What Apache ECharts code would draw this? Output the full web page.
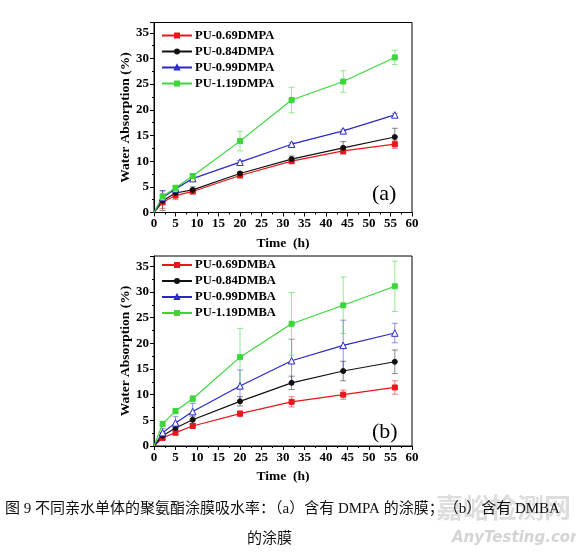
<!DOCTYPE html>
<html><head><meta charset="utf-8">
<script src="https://cdn.jsdelivr.net/npm/echarts@6/dist/echarts.min.js"></script>
<style>html,body{margin:0;padding:0;background:#fff}#c{width:576px;height:554px}</style>
</head><body><div id="c"></div>
<script>
const times = [0, 2, 5, 9, 20, 32, 44, 56];
const namesA = ['PU-0.69DMPA', 'PU-0.84DMPA', 'PU-0.99DMPA', 'PU-1.19DMPA'];
const namesB = ['PU-0.69DMBA', 'PU-0.84DMBA', 'PU-0.99DMBA', 'PU-1.19DMBA'];
const a069 = [0, 2.0, 3.3, 4.1, 7.2, 10.0, 12.0, 13.3];
const a084 = [0, 2.3, 3.8, 4.4, 7.6, 10.4, 12.6, 14.7];
const a099 = [0, 2.9, 4.6, 6.6, 9.8, 13.3, 15.9, 19.0];
const a119 = [0, 3.1, 4.8, 7.1, 13.9, 21.9, 25.5, 30.2];
const a069Err = [0, 1.2, 0.8, 0.5, 0.4, 0.5, 0.6, 0.8];
const a084Err = [0, 1.9, 0.5, 0.6, 0.3, 0.6, 1.2, 1.7];
const a099Err = [0, 1.4, 0.4, 0.3, 0.3, 0.3, 0.3, 0.3];
const a119Err = [0, 0.6, 0.5, 0.5, 1.9, 2.5, 2.1, 1.4];
const b069 = [0, 1.6, 2.6, 3.9, 6.3, 8.6, 10.0, 11.4];
const b084 = [0, 2.0, 3.5, 5.1, 8.7, 12.3, 14.6, 16.4];
const b099 = [0, 2.6, 4.5, 6.7, 11.7, 16.6, 19.6, 22.0];
const b119 = [0, 4.3, 6.8, 9.2, 17.3, 23.8, 27.4, 31.1];
const b069Err = [0, 0.5, 0.5, 0.4, 0.5, 1.0, 0.9, 1.3];
const b084Err = [0, 0.6, 0.6, 0.7, 0.9, 1.3, 1.9, 2.3];
const b099Err = [0, 0.8, 1.2, 1.6, 3.1, 4.2, 4.9, 1.9];
const b119Err = [0, 0.5, 0.5, 0.6, 5.6, 6.1, 5.5, 4.9];
const xTicks = [0, 5, 10, 15, 20, 25, 30, 35, 40, 45, 50, 55, 60];
const yTicks = [0, 5, 10, 15, 20, 25, 30, 35];

const colors = ['#e8161b', '#111111', '#2828c8', '#3cd63c'];
const errColors = ['rgba(232,22,27,0.55)', 'rgba(40,40,40,0.55)', 'rgba(40,40,200,0.5)', 'rgba(60,214,60,0.55)'];
const symbols = ['rect', 'circle', 'triangle', 'rect'];
const fills = ['#e8161b', '#111111', '#ffffff', '#3cd63c'];
const serif = '"Liberation Serif","DejaVu Serif",serif';

function xAxis(gi) {
  return {
    gridIndex: gi, type: 'value', min: 0, max: 60, interval: 5,
    name: 'Time  (h)', nameLocation: 'middle', nameGap: 24,
    nameTextStyle: { fontFamily: serif, fontWeight: 'bold', fontSize: 13.5, color: '#000' },
    axisLine: { show: true, lineStyle: { color: '#000', width: 1 } },
    axisTick: { show: true, inside: false, length: 4, lineStyle: { color: '#000' } },
    minorTick: { show: true, splitNumber: 2, length: 2, lineStyle: { color: '#000' } },
    axisLabel: { fontFamily: serif, fontWeight: 'bold', fontSize: 13, color: '#000', margin: 5,
      formatter: v => xTicks.includes(v) ? String(v) : '' },
    splitLine: { show: false }
  };
}
function yAxis(gi) {
  return {
    gridIndex: gi, type: 'value', min: 0, max: 37, interval: 5,
    name: 'Water Absorption (%)', nameLocation: 'middle', nameGap: 20,
    nameTextStyle: { fontFamily: serif, fontWeight: 'bold', fontSize: 13.5, color: '#000' },
    axisLine: { show: true, lineStyle: { color: '#000', width: 1 } },
    axisTick: { show: true, inside: false, length: 4, lineStyle: { color: '#000' } },
    minorTick: { show: true, splitNumber: 2, length: 2, lineStyle: { color: '#000' } },
    axisLabel: { fontFamily: serif, fontWeight: 'bold', fontSize: 13, color: '#000', margin: 5,
      showMaxLabel: false,
      formatter: v => yTicks.includes(v) ? String(v) : '' },
    splitLine: { show: false }
  };
}

function lineSeries(name, vals, i, gi) {
  return {
    name: name, type: 'line', xAxisIndex: gi, yAxisIndex: gi,
    data: times.map((t, k) => k === 0 ? { value: [t, vals[k]], symbolSize: 0 } : [t, vals[k]]),
    symbol: symbols[i], symbolSize: i === 2 ? 6.5 : 5,
    lineStyle: { color: colors[i], width: 1.2 },
    itemStyle: { color: fills[i], borderColor: colors[i], borderWidth: 1 },
    z: 3, animation: false
  };
}
function errSeries(vals, errs, i, gi) {
  return {
    type: 'custom', xAxisIndex: gi, yAxisIndex: gi, z: 2, animation: false,
    data: times.map((t, k) => [t, vals[k], errs[k]]).filter(d => d[2] > 0),
    renderItem: function (params, api) {
      const x = api.value(0), y = api.value(1), e = api.value(2);
      const hi = api.coord([x, y + e]);
      const lo = api.coord([x, y - e]);
      const st = { stroke: errColors[i], lineWidth: 1 };
      const w = 3;
      return {
        type: 'group', children: [
          { type: 'line', shape: { x1: hi[0], y1: hi[1], x2: lo[0], y2: lo[1] }, style: st },
          { type: 'line', shape: { x1: hi[0] - w, y1: hi[1], x2: hi[0] + w, y2: hi[1] }, style: st },
          { type: 'line', shape: { x1: lo[0] - w, y1: lo[1], x2: lo[0] + w, y2: lo[1] }, style: st }
        ]
      };
    }
  };
}

const chart = echarts.init(document.getElementById('c'), null, { renderer: 'canvas' });
const legendCommon = {
  orient: 'vertical', left: 161, itemGap: 2, itemWidth: 30, itemHeight: 5,
  textStyle: { fontFamily: serif, fontWeight: 'bold', fontSize: 12.5, color: '#000', lineHeight: 14, padding: [0, 0, 0, -2] },
  padding: 0
};
chart.setOption({
  backgroundColor: '#fff',
  animation: false,
  grid: [
    { left: 154, top: 22.5, width: 258, height: 190, show: true, borderColor: '#000', borderWidth: 1 },
    { left: 154, top: 256, width: 258, height: 190, show: true, borderColor: '#000', borderWidth: 1 }
  ],
  xAxis: [xAxis(0), xAxis(1)],
  yAxis: [yAxis(0), yAxis(1)],
  legend: [
    Object.assign({ top: 28.5, data: namesA }, legendCommon),
    Object.assign({ top: 258, data: namesB }, legendCommon)
  ],
  series: [
    errSeries(a069, a069Err, 0, 0), errSeries(a084, a084Err, 1, 0),
    errSeries(a099, a099Err, 2, 0), errSeries(a119, a119Err, 3, 0),
    lineSeries(namesA[0], a069, 0, 0), lineSeries(namesA[1], a084, 1, 0),
    lineSeries(namesA[2], a099, 2, 0), lineSeries(namesA[3], a119, 3, 0),
    errSeries(b069, b069Err, 0, 1), errSeries(b084, b084Err, 1, 1),
    errSeries(b099, b099Err, 2, 1), errSeries(b119, b119Err, 3, 1),
    lineSeries(namesB[0], b069, 0, 1), lineSeries(namesB[1], b084, 1, 1),
    lineSeries(namesB[2], b099, 2, 1), lineSeries(namesB[3], b119, 3, 1)
  ],
  graphic: [
    { type: 'text', left: 372, top: 183, style: { text: '(a)', font: '22px "Liberation Serif", serif', fill: '#000' } },
    { type: 'text', left: 372, top: 421, style: { text: '(b)', font: '22px "Liberation Serif", serif', fill: '#000' } },
    { type: 'text', left: 436, top: 494, z: 0, style: { text: '嘉峪检测网', font: 'bold 27px "Noto Sans CJK SC", sans-serif', fill: 'rgba(170,170,170,0.4)' } },
    { type: 'text', left: 452, top: 531, z: 0, style: { text: 'AnyTesting.com', font: 'italic bold 15px "DejaVu Sans", sans-serif', fill: 'rgba(170,170,170,0.5)' } },
    { type: 'text', left: 5, top: 502, z: 10, style: { text: '图 9 不同亲水单体的聚氨酯涂膜吸水率：（a）含有 DMPA 的涂膜；（b）含有 DMBA', font: '15px "Liberation Serif", "Noto Sans CJK SC", serif', fill: '#111' } },
    { type: 'text', left: 247, top: 532, z: 10, style: { text: '的涂膜', font: '15px "Liberation Serif", "Noto Sans CJK SC", serif', fill: '#111' } }
  ]
});
</script></body></html>
